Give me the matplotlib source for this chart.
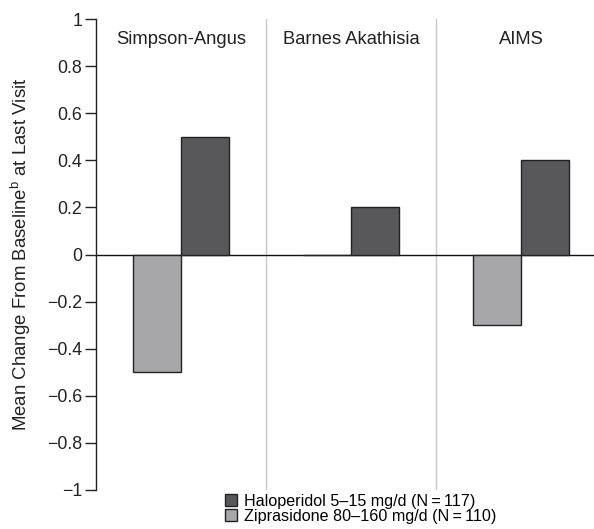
import numpy as np
import matplotlib
matplotlib.use("Agg")
import matplotlib.pyplot as plt
from matplotlib.patches import Patch

plt.rcParams["font.family"] = ["Liberation Sans", "DejaVu Sans"]

scales = ["Simpson-Angus", "Barnes Akathisia", "AIMS"]
haloperidol = [0.5, 0.2, 0.4]
ziprasidone = [-0.5, 0.0, -0.3]
yticks = [-1, -0.8, -0.6, -0.4, -0.2, 0, 0.2, 0.4, 0.6, 0.8, 1]
ytick_labels = ["\u22121", "\u22120.8", "\u22120.6", "\u22120.4", "\u22120.2", "0",
                "0.2", "0.4", "0.6", "0.8", "1"]

DARK = "#58585b"
LIGHT = "#a7a7aa"
W = 0.283

fig = plt.figure(figsize=(5.94, 5.29), dpi=100)
ax = fig.add_axes([96/594, 39/529, 510/594, 471/529])

x = np.arange(len(scales))
ax.bar(x - W/2, ziprasidone, W, color=LIGHT, edgecolor="#222222", lw=1.0, zorder=3)
ax.bar(x + W/2, haloperidol, W, color=DARK, edgecolor="#222222", lw=1.0, zorder=3)

ax.axhline(0, color="#111111", lw=1.0, zorder=2)
for d in (0.5, 1.5):
    ax.axvline(d, color="#c8c8c8", lw=1.0, zorder=1)

for i, name in enumerate(scales):
    ax.text(i, 0.915, name, ha="center", va="center", fontsize=13.2, color="#222222")

ax.set_xlim(-0.5, 2.5)
ax.set_ylim(-1, 1)
ax.set_xticks([])
ax.set_yticks(yticks)
ax.set_yticklabels(ytick_labels, fontsize=12.8, color="#222222")
ax.tick_params(axis="y", direction="out", length=8, width=1.0, pad=2, color="#222222")
for s in ("top", "right", "bottom"):
    ax.spines[s].set_visible(False)
ax.spines["left"].set_color("#222222")
ax.spines["left"].set_linewidth(1.0)

ax.set_ylabel("Mean Change From Baseline$^{\\mathregular{b}}$ at Last Visit",
              fontsize=13.4, color="#222222")
ax.yaxis.set_label_coords(-63/510, 0.5)

handles = [Patch(facecolor=DARK, edgecolor="#222222"),
           Patch(facecolor=LIGHT, edgecolor="#222222")]
fig.legend(handles, ["Haloperidol 5\u201315 mg/d (N\u2009=\u2009117)",
                     "Ziprasidone 80\u2013160 mg/d (N\u2009=\u2009110)"],
           loc="upper left", bbox_to_anchor=(225/594, 1 - 494/529),
           frameon=False, fontsize=11.6, handlelength=0.75, handleheight=0.75,
           handletextpad=0.45, labelspacing=0.0, borderpad=0, borderaxespad=0)

fig.savefig("out.png", dpi=100, facecolor="white")
